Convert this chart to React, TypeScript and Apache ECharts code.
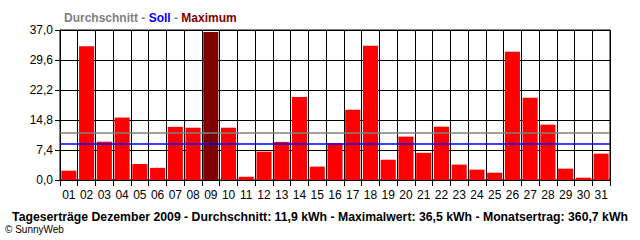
import React, { useEffect, useRef } from "react";
import * as echarts from "echarts";

const days = ["01","02","03","04","05","06","07","08","09","10","11","12","13","14","15","16","17","18","19","20","21","22","23","24","25","26","27","28","29","30","31"];
const yields = [2.3,33.0,9.45,15.4,3.95,3.0,13.1,12.9,36.5,12.9,0.8,7.0,9.4,20.5,3.3,9.05,17.35,33.1,5.0,10.7,6.7,13.15,3.8,2.55,1.8,31.65,20.3,13.65,2.8,0.57,6.5];
const averageLine = 11.6;
const targetLine = 9.0;
const yMin = 0;
const yMax = 37;
const yStep = 7.4;
const headerParts = ["Durchschnitt", " - ", "Soll", " - ", "Maximum"];
const footer = "Tageserträge Dezember 2009 - Durchschnitt: 11,9 kWh - Maximalwert: 36,5 kWh - Monatsertrag: 360,7 kWh";
const credit = "© SunnyWeb";

export default function App() {
  const ref = useRef<HTMLDivElement>(null);
  useEffect(() => {
    const chart = echarts.init(ref.current!, null, { renderer: "svg" });
    const maxVal = Math.max(...yields);
    const font = "Liberation Sans";
    chart.setOption({
      animation: false,
      backgroundColor: "#ffffff",
      textStyle: { fontFamily: font },
      title: {
        left: 59,
        top: 7,
        text: `{g|${headerParts[0]}}{g|${headerParts[1]}}{b|${headerParts[2]}}{g|${headerParts[3]}}{r|${headerParts[4]}}`,
        textStyle: {
          fontSize: 12,
          fontWeight: "bold",
          rich: {
            g: { color: "#808080", fontSize: 12, fontWeight: "bold", fontFamily: font },
            b: { color: "#0000ff", fontSize: 12, fontWeight: "bold", fontFamily: font },
            r: { color: "#800000", fontSize: 12, fontWeight: "bold", fontFamily: font },
          },
        },
      },
      grid: {
        left: 60,
        right: 30,
        top: 30,
        bottom: 60,
        show: true,
        borderColor: "#000000",
        borderWidth: 1,
      },
      xAxis: {
        type: "category",
        data: days,
        boundaryGap: true,
        axisLine: { lineStyle: { color: "#000000", width: 1 } },
        axisTick: { show: true, alignWithLabel: false, length: 6, lineStyle: { color: "#000000" } },
        splitLine: { show: true, lineStyle: { color: "#000000", width: 1 } },
        axisLabel: { color: "#000000", fontSize: 12, margin: 9, fontFamily: font, interval: 0 },
      },
      yAxis: {
        type: "value",
        min: yMin,
        max: yMax,
        interval: yStep,
        axisLine: { show: true, lineStyle: { color: "#000000", width: 1 } },
        axisTick: { show: true, length: 5, lineStyle: { color: "#000000" } },
        splitLine: { show: true, lineStyle: { color: "#000000", width: 1 } },
        axisLabel: {
          color: "#000000",
          fontSize: 12,
          margin: 7,
          fontFamily: font,
          formatter: (v: number) => v.toFixed(1).replace(".", ","),
        },
      },
      series: [
        {
          type: "bar",
          barCategoryGap: "15%",
          data: yields.map((v) => ({
            value: v,
            itemStyle: { color: v === maxVal ? "#800000" : "#ff0000" },
          })),
          markLine: {
            silent: true,
            symbol: "none",
            label: { show: false },
            data: [
              { yAxis: averageLine, lineStyle: { color: "#808080", width: 1.5, type: "solid" } },
              { yAxis: targetLine, lineStyle: { color: "#0000ff", width: 1.5, type: "solid" } },
            ],
          },
        },
      ],
      graphic: [
        {
          type: "text",
          x: 320,
          y: 217,
          style: {
            text: footer,
            fill: "#000000",
            font: `bold 12.25px "${font}"`,
            textAlign: "center",
            textVerticalAlign: "middle",
          },
        },
        {
          type: "text",
          x: 5,
          y: 229,
          style: {
            text: credit,
            fill: "#000000",
            font: `10px "${font}"`,
            textAlign: "left",
            textVerticalAlign: "middle",
          },
        },
      ],
    });
    return () => chart.dispose();
  }, []);
  return <div ref={ref} style={{ position: "fixed", left: 0, top: 0, width: 640, height: 240 }} />;
}
